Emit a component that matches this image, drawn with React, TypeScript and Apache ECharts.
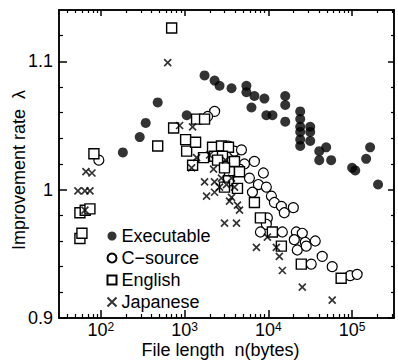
import React, { useEffect, useRef } from "react";
import * as echarts from "echarts";

// ---- Data (file length n in bytes, improvement rate λ) ----
const execN = [183, 291, 343, 477, 1060, 1730, 2280, 2610, 3630, 5470, 5470, 6810, 8960, 6280, 9460, 11200, 15900, 15900, 15900, 24000, 24000, 24000, 24000, 24000, 24000, 31600, 31600, 31600, 40500, 49000, 40500, 56200, 100000, 109000, 147000, 164000, 204000];
const execRate = [1.029, 1.041, 1.052, 1.068, 1.058, 1.089, 1.085, 1.081, 1.079, 1.081, 1.076, 1.073, 1.071, 1.064, 1.058, 1.058, 1.073, 1.066, 1.053, 1.061, 1.055, 1.049, 1.045, 1.039, 1.034, 1.049, 1.045, 1.038, 1.030, 1.033, 1.023, 1.023, 1.017, 1.015, 1.024, 1.033, 1.004];

const cN = [94.6, 2280, 1880, 3340, 3940, 4770, 6810, 8720, 7600, 9460, 6450, 10860, 11790, 14290, 19860, 15500, 9730, 9460, 8030, 14690, 21540, 25410, 20400, 27560, 36310, 22130, 28310, 32510, 43940, 57820, 94630, 114800, 5180, 5940, 4520];
const cRate = [1.023, 1.061, 1.057, 1.034, 1.030, 1.031, 1.022, 1.013, 1.004, 1.002, 0.998, 0.995, 0.990, 0.987, 0.986, 0.982, 0.978, 0.973, 0.967, 0.967, 0.967, 0.966, 0.961, 0.959, 0.960, 0.953, 0.956, 0.942, 0.948, 0.940, 0.933, 0.934, 1.020, 1.009, 1.016];

const engN = [82.6, 700, 56.2, 65, 74.0, 56.2, 59.4, 477, 739, 1028, 1057, 1245, 1389, 1730, 1352, 2154, 2754, 3340, 1683, 2276, 2831, 3936, 2473, 3435, 4520, 2992, 3340, 4275, 2992, 6810, 8030, 11160, 14290, 24720, 73960];
const engRate = [1.028, 1.126, 0.982, 0.984, 0.985, 0.962, 0.966, 1.034, 1.048, 1.039, 1.030, 1.019, 1.055, 1.055, 1.037, 1.033, 1.034, 1.033, 1.025, 1.026, 1.026, 1.022, 1.023, 1.014, 1.014, 1.017, 1.007, 1.001, 1.002, 0.990, 0.978, 0.967, 0.956, 0.942, 0.931];

const japN = [628, 66.3, 78.2, 53.2, 64.5, 74.0, 64.5, 871, 1245, 1389, 1211, 1730, 2276, 2213, 2754, 3630, 3940, 3162, 2610, 1828, 2276, 3435, 4275, 4520, 3630, 2992, 4160, 9730, 7200, 12450, 13520, 14690, 25410, 57820, 1985, 3076];
const japRate = [1.099, 1.014, 1.013, 0.999, 0.999, 0.999, 0.984, 1.050, 1.049, 1.025, 1.017, 1.006, 1.006, 1.016, 1.009, 1.009, 1.002, 1.004, 1.002, 0.995, 0.998, 0.991, 0.988, 0.984, 0.994, 0.974, 0.974, 0.963, 0.955, 0.955, 0.948, 0.937, 0.924, 0.914, 1.027, 1.023];

const seriesNames = ["Executable", "C\u2212source", "English", "Japanese"];

// axis structure
const xMin = 1.5, xMax = 5.5; // log10 of bytes
const yMin = 0.9, yMax = 1.14;
const xMajor = [2, 3, 4, 5];
const xMinor: number[] = [];
for (let k = 1; k <= 5; k++) {
  for (let m = 2; m <= 9; m++) {
    const v = Math.log10(m * Math.pow(10, k));
    if (v > xMin && v < xMax) xMinor.push(v);
  }
}
const yMajor = [0.9, 1, 1.1];
const yMinor = [0.92, 0.94, 0.96, 0.98, 1.02, 1.04, 1.06, 1.08, 1.12];

const FONT = "'Liberation Sans', Arial, Helvetica, sans-serif";

function pairs(ns: number[], rs: number[]) {
  return ns.map((n, i) => [Math.log10(n), rs[i]]);
}

export default function App() {
  const ref = useRef<HTMLDivElement>(null);
  useEffect(() => {
    if (!ref.current) return;
    const chart = echarts.init(ref.current, null, { renderer: "svg" });
    const line = { color: "#000", width: 1.5 };
    const baseX = {
      type: "value",
      min: xMin,
      max: xMax,
      splitLine: { show: false },
      axisLine: { show: true, lineStyle: line },
    };
    const baseY = {
      type: "value",
      min: yMin,
      max: yMax,
      splitLine: { show: false },
      axisLine: { show: true, lineStyle: line },
    };
    const option: any = {
      animation: false,
      backgroundColor: "#fff",
      grid: { left: 59, right: 4, top: 10, bottom: 44, containLabel: false, outerBoundsMode: "none" },
      xAxis: [
        {
          ...baseX,
          position: "bottom",
          name: "File length  n(bytes)",
          nameLocation: "middle",
          nameGap: 23,
          nameMoveOverlap: false,
          nameTextStyle: { fontSize: 18, color: "#000", fontFamily: FONT, padding: [0, 12, 0, 0] },
          axisTick: { show: true, inside: true, length: 8, customValues: xMajor, lineStyle: line },
          axisLabel: {
            customValues: xMajor,
            margin: 3,
            color: "#000",
            formatter: (v: number) => `{b|10}{s|${Math.round(v)}}`,
            rich: {
              b: { fontSize: 18, lineHeight: 18, verticalAlign: "bottom", fontFamily: FONT, color: "#000" },
              s: { fontSize: 12, lineHeight: 7, verticalAlign: "top", fontFamily: FONT, color: "#000" },
            },
          },
        },
        {
          ...baseX,
          position: "bottom",
          axisTick: { show: true, inside: true, length: 4, customValues: xMinor, lineStyle: { color: "#000", width: 1.2 } },
          axisLabel: { show: false },
        },
        {
          ...baseX,
          position: "top",
          axisTick: { show: true, inside: true, length: 6, customValues: xMajor, lineStyle: line },
          axisLabel: { show: false },
        },
        {
          ...baseX,
          position: "top",
          axisTick: { show: true, inside: true, length: 3, customValues: xMinor, lineStyle: { color: "#000", width: 1.2 } },
          axisLabel: { show: false },
        },
      ],
      yAxis: [
        {
          ...baseY,
          position: "left",
          name: "Improvement rate  \u03bb",
          nameLocation: "middle",
          nameGap: 31,
          nameMoveOverlap: false,
          nameTextStyle: { fontSize: 18, color: "#000", fontFamily: FONT, padding: [0, 12, 0, 0] },
          axisTick: { show: true, inside: true, length: 8, customValues: yMajor, lineStyle: line },
          axisLabel: { customValues: yMajor, margin: 6, fontSize: 18, color: "#000", fontFamily: FONT },
        },
        {
          ...baseY,
          position: "left",
          axisTick: { show: true, inside: true, length: 4, customValues: yMinor, lineStyle: { color: "#000", width: 1.2 } },
          axisLabel: { show: false },
        },
        {
          ...baseY,
          position: "right",
          axisTick: { show: true, inside: true, length: 6, customValues: yMajor, lineStyle: line },
          axisLabel: { show: false },
        },
        {
          ...baseY,
          position: "right",
          axisTick: { show: true, inside: true, length: 3, customValues: yMinor, lineStyle: { color: "#000", width: 1.2 } },
          axisLabel: { show: false },
        },
      ],
      legend: {
        orient: "vertical",
        left: 100,
        top: 222,
        itemWidth: 9,
        itemHeight: 9,
        itemGap: 4,
        selectedMode: false,
        textStyle: { fontSize: 18, color: "#000", fontFamily: FONT },
        data: seriesNames,
      },
      series: [
        {
          name: seriesNames[0],
          type: "scatter",
          symbol: "circle",
          symbolSize: 10,
          itemStyle: { color: "#000" },
          data: pairs(execN, execRate),
        },
        {
          name: seriesNames[1],
          type: "scatter",
          symbol: "circle",
          symbolSize: 10,
          itemStyle: { color: "#fff", borderColor: "#000", borderWidth: 1.2, opacity: 1 },
          data: pairs(cN, cRate),
        },
        {
          name: seriesNames[2],
          type: "scatter",
          symbol: "rect",
          symbolSize: 10,
          itemStyle: { color: "#fff", borderColor: "#000", borderWidth: 1.4, opacity: 1 },
          data: pairs(engN, engRate),
        },
        {
          name: seriesNames[3],
          type: "scatter",
          symbol: "path://M0,0L10,10M10,0L0,10",
          symbolSize: 7,
          itemStyle: { color: "none", borderColor: "#000", borderWidth: 1.7 },
          data: pairs(japN, japRate),
        },
      ],
    };
    chart.setOption(option);
    return () => chart.dispose();
  }, []);
  return <div ref={ref} style={{ width: 398, height: 362, position: "absolute", left: 0, top: 0 }} />;
}
